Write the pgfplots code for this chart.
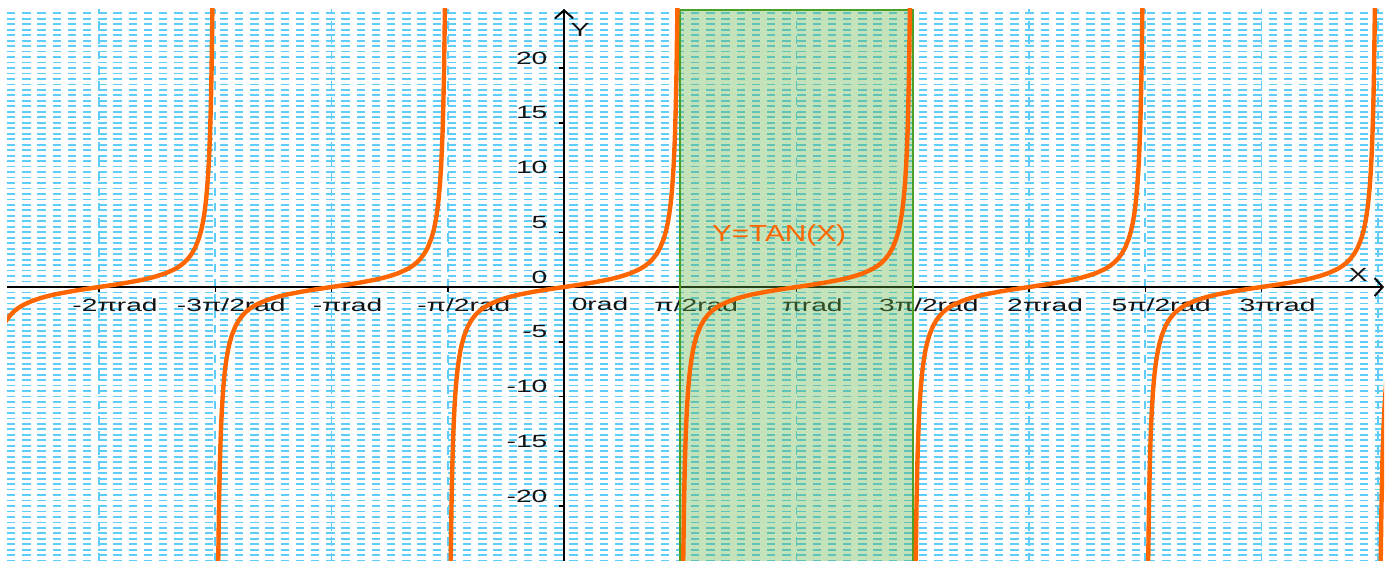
\documentclass[border=0pt]{standalone}
\usepackage{fontspec}
\setmainfont{Liberation Sans}
\usepackage{pgfplots}
\pgfplotsset{compat=1.18}
\usepackage{pgfplotstable}
\usetikzlibrary{arrows.meta}
\definecolor{gridblue}{RGB}{95,205,250}
\definecolor{curve}{RGB}{255,102,0}
\definecolor{shade}{RGB}{98,178,69}
\definecolor{shadeedge}{RGB}{76,160,40}
\definecolor{lbl}{RGB}{20,20,20}
\pgfplotstableread{
u t
-1.55 -48.08
-1.54 -32.46
-1.53 -24.50
-1.52 -19.67
-1.51 -16.43
-1.50 -14.10
-1.49 -12.35
-1.48 -10.98
-1.47 -9.89
-1.46 -8.99
-1.45 -8.24
-1.44 -7.60
-1.43 -7.06
-1.42 -6.58
-1.40 -5.80
-1.38 -5.18
-1.35 -4.46
-1.30 -3.60
-1.25 -3.01
-1.20 -2.57
-1.15 -2.23
-1.10 -1.96
-1.05 -1.74
-1.00 -1.56
-0.90 -1.26
-0.80 -1.03
-0.70 -0.84
-0.60 -0.68
-0.50 -0.55
-0.40 -0.42
-0.30 -0.31
-0.20 -0.20
-0.10 -0.10
0 0
0.10 0.10
0.20 0.20
0.30 0.31
0.40 0.42
0.50 0.55
0.60 0.68
0.70 0.84
0.80 1.03
0.90 1.26
1.00 1.56
1.05 1.74
1.10 1.96
1.15 2.23
1.20 2.57
1.25 3.01
1.30 3.60
1.35 4.46
1.38 5.18
1.40 5.80
1.42 6.58
1.43 7.06
1.44 7.60
1.45 8.24
1.46 8.99
1.47 9.89
1.48 10.98
1.49 12.35
1.50 14.10
1.51 16.43
1.52 19.67
1.53 24.50
1.54 32.46
1.55 48.08
}\branch

\begin{document}
\begin{tikzpicture}
\begin{axis}[
  scale only axis,
  width=688.5pt, height=276pt,
  xmin=-7.527, xmax=11.08,
  ymin=-25.02, ymax=25.39,
  axis lines=middle,
  axis line style={line width=1pt, black, -{Straight Barb[length=4pt,width=9pt]}},
  xtick={-6.28319,-4.71239,-3.14159,-1.5708,1.5708,3.14159,4.71239,6.28319,7.85398,9.42478},
  xticklabels={-2πrad,-3π/2rad,-πrad,-π/2rad,π/2rad,πrad,3π/2rad,2πrad,5π/2rad,3πrad},
  ytick={-20,-15,-10,-5,0,5,10,15,20},
  yticklabels={-20,-15,-10,-5,0,5,10,15,20},
  minor ytick={-25,-24.5,...,25},
  minor xtick={0,10.99557},
  hide obscured y ticks=false,
  grid=both,
  major grid style={gridblue, line width=0.9pt, dash pattern=on 4.2pt off 3.4pt},
  minor grid style={gridblue, line width=0.9pt, dash pattern=on 4.2pt off 3.4pt},
  major tick length=2.5pt,
  minor tick length=0pt,
  tick align=outside,
  tick style={black, line width=0.75pt},
  xticklabel style={font=\fontsize{8.8}{10}\selectfont, text=lbl, anchor=base, inner sep=0pt, xshift=8pt, yshift=-9.5pt, xscale=1.6},
  yticklabel style={font=\fontsize{8.8}{10}\selectfont, text=lbl, anchor=east, inner sep=0pt, xshift=-5.5pt, yshift=5pt, xscale=1.6},
]
\coordinate (sw) at (rel axis cs:0,0);
\coordinate (ne) at (rel axis cs:1,1);
\addplot[draw=shadeedge, line width=1pt, fill=shade, fill opacity=0.37]
  coordinates {(1.5708,-26) (1.5708,25.3) (4.71239,25.3) (4.71239,-26)} -- cycle;
\addplot[curve, line width=2.2pt, line join=round] table[x expr=\thisrow{u}-2*3.14159265, y=t]{\branch};
\addplot[curve, line width=2.2pt, line join=round] table[x expr=\thisrow{u}-1*3.14159265, y=t]{\branch};
\addplot[curve, line width=2.2pt, line join=round] table[x expr=\thisrow{u}, y=t]{\branch};
\addplot[curve, line width=2.2pt, line join=round] table[x expr=\thisrow{u}+1*3.14159265, y=t]{\branch};
\addplot[curve, line width=2.2pt, line join=round] table[x expr=\thisrow{u}+2*3.14159265, y=t]{\branch};
\addplot[curve, line width=2.2pt, line join=round] table[x expr=\thisrow{u}+3*3.14159265, y=t]{\branch};
\addplot[curve, line width=2.2pt, line join=round] table[x expr=\thisrow{u}+4*3.14159265, y=t]{\branch};
\node[text=curve, font=\fontsize{11.6}{14}\selectfont, xscale=1.28] at (axis cs:2.905,4.66) {Y=TAN(X)};
\node[text=lbl, font=\fontsize{9.5}{11}\selectfont, xscale=1.5] at (axis cs:0.216,23.5) {Y};
\node[text=lbl, font=\fontsize{9.5}{11}\selectfont, xscale=1.5] at (axis cs:10.73,1.1) {X};
\node[text=lbl, font=\fontsize{8.8}{10}\selectfont, anchor=base, inner sep=0pt, xscale=1.6] at (axis cs:0.486,-2.1) {0rad};
\end{axis}
\pgfresetboundingbox
\path ([xshift=-3.5pt]sw) rectangle ([xshift=3.5pt,yshift=4.5pt]ne);
\end{tikzpicture}
\end{document}
